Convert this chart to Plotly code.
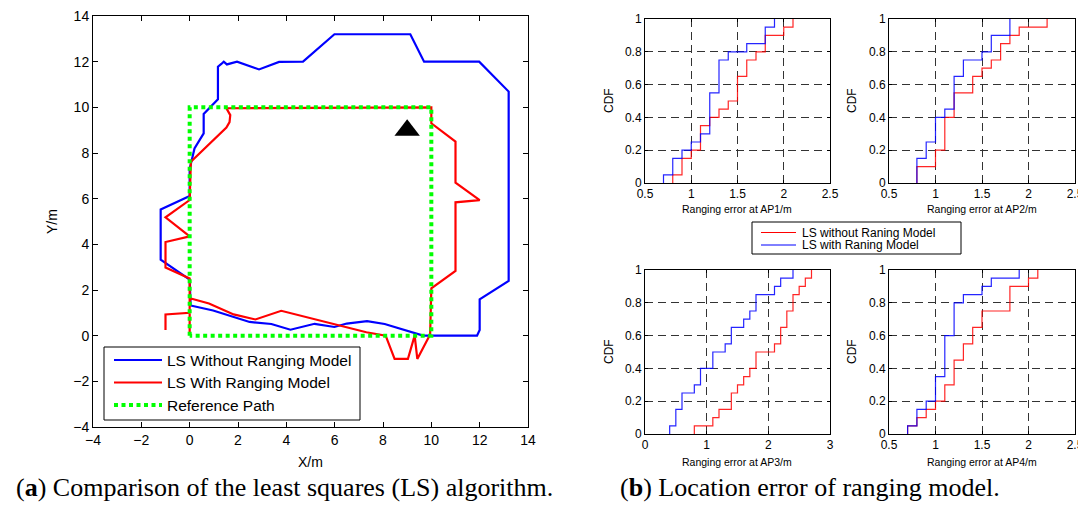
import plotly.graph_objects as go

W, H = 1086, 508
OFF = 8  # default page body margin in the written html

# ---------------- Left panel: trajectories ----------------
blue_x = [0.04, 0.97, 2.48, 3.38, 4.17, 5.17, 5.99, 6.5, 7.34, 8.07, 9.66, 11.89, 12.0, 12.0, 13.2, 13.2,
          11.98, 9.70, 9.13, 5.99, 4.69, 3.70, 2.87, 1.96, 1.54, 1.41, 1.31, 1.17, 1.17, 0.58, 0.58, 0.2,
          0.0, 0.0, -1.2, -1.2, 0.0, 0.04]
blue_y = [1.32, 1.10, 0.60, 0.51, 0.26, 0.52, 0.38, 0.53, 0.64, 0.51, 0.0, 0.0, 0.25, 1.59, 2.40, 10.69,
          12.0, 12.0, 13.2, 13.2, 12.0, 11.99, 11.66, 12.0, 11.88, 12.0, 11.9, 11.78, 10.35, 9.71, 8.86, 8.2,
          7.3, 6.12, 5.53, 3.33, 2.46, 1.32]
red_x = [-1.0, -1.0, 0.0, 0.0, -1.0, -1.0, 0.0, -1.0, 0.0, 0.05, 1.52, 1.65, 1.68, 1.52, 10.0, 10.0, 11.0,
         11.0, 12.0, 11.0, 11.0, 10.0, 9.95, 9.42, 9.31, 9.03, 8.48, 8.11, 7.31, 3.79, 2.72, 1.82, 0.8, 0.05,
         0.0, 0.0]
red_y = [0.25, 0.93, 1.0, 2.5, 2.98, 4.1, 4.35, 5.18, 5.94, 7.62, 9.11, 9.35, 9.66, 9.96, 10.0, 9.3, 8.5,
         6.7, 5.94, 5.84, 2.84, 2.07, 0.05, -1.02, 0.0, -1.02, -1.02, 0.0, 0.15, 1.09, 0.71, 0.93, 1.41, 1.63,
         1.5, 0.1]
ref_x = [0, 0, 10, 10, 0]
ref_y = [0, 10, 10, 0, 0]
ap_x = [9.0]
ap_y = [9.0]
left_ticks = [-4, -2, 0, 2, 4, 6, 8, 10, 12, 14]
left_legend_names = ["LS Without Ranging Model", "LS With Ranging Model", "Reference Path"]

# ---------------- Right panel: CDFs ----------------
ap1_blue_x = [0.7, 0.7, 0.8, 0.9, 1.0, 1.1, 1.2, 1.3, 1.4, 1.6, 1.8, 1.9]
ap1_blue_y = [0, 0.05, 0.15, 0.2, 0.25, 0.3, 0.55, 0.75, 0.8, 0.85, 0.95, 1.0]
ap1_red_x = [0.8, 0.8, 0.9, 1.0, 1.1, 1.2, 1.3, 1.4, 1.5, 1.6, 1.7, 1.8, 2.0, 2.1]
ap1_red_y = [0, 0.05, 0.15, 0.2, 0.35, 0.4, 0.45, 0.5, 0.65, 0.75, 0.8, 0.9, 0.95, 1.0]
ap2_blue_x = [0.8, 0.8, 0.9, 1.0, 1.1, 1.2, 1.3, 1.5, 1.6, 1.8]
ap2_blue_y = [0, 0.15, 0.25, 0.4, 0.45, 0.65, 0.75, 0.8, 0.9, 1.0]
ap2_red_x = [0.8, 0.8, 1.0, 1.1, 1.2, 1.4, 1.5, 1.6, 1.7, 1.8, 1.9, 2.2]
ap2_red_y = [0, 0.1, 0.2, 0.4, 0.55, 0.65, 0.7, 0.75, 0.85, 0.9, 0.95, 1.0]
ap3_blue_x = [0.4, 0.4, 0.5, 0.6, 0.8, 0.9, 1.1, 1.3, 1.4, 1.6, 1.7, 1.8, 2.1, 2.2, 2.4]
ap3_blue_y = [0, 0.05, 0.15, 0.25, 0.3, 0.4, 0.5, 0.55, 0.65, 0.7, 0.75, 0.85, 0.9, 0.95, 1.0]
ap3_red_x = [0.8, 0.8, 1.1, 1.2, 1.4, 1.5, 1.6, 1.7, 1.8, 2.1, 2.2, 2.3, 2.4, 2.5, 2.6, 2.7]
ap3_red_y = [0, 0.05, 0.1, 0.15, 0.25, 0.3, 0.35, 0.4, 0.5, 0.55, 0.65, 0.75, 0.85, 0.9, 0.95, 1.0]
ap4_blue_x = [0.7, 0.7, 0.8, 0.9, 1.0, 1.1, 1.2, 1.3, 1.5, 1.6, 1.9]
ap4_blue_y = [0, 0.05, 0.15, 0.2, 0.35, 0.6, 0.8, 0.85, 0.9, 0.95, 1.0]
ap4_red_x = [0.7, 0.7, 0.8, 0.9, 1.0, 1.1, 1.2, 1.3, 1.4, 1.5, 1.8, 2.0, 2.1]
ap4_red_y = [0, 0.05, 0.1, 0.15, 0.2, 0.3, 0.45, 0.55, 0.65, 0.75, 0.9, 0.95, 1.0]

cdf_ticks_a = [0.5, 1, 1.5, 2, 2.5]
cdf_ticks_a_text = ["0.5", "1", "1.5", "2", "2.5"]
cdf_ticks_b = [0, 1, 2, 3]
cdf_ticks_b_text = ["0", "1", "2", "3"]
cdf_yticks = [0, 0.2, 0.4, 0.6, 0.8, 1.0]
cdf_yticks_text = ["0", "0.2", "0.4", "0.6", "0.8", "1"]
cdf_legend_names = ["LS without Raning Model", "LS with Raning Model"]

SANS = "Liberation Sans, Arial, sans-serif"
SERIF = "Liberation Serif, Times New Roman, serif"
RED, BLUE, GREEN = "#FF0000", "#0000FF", "#00FF00"
GREEN_DASH = "4px,3.5px"


def fx(px):
    return (px - OFF) / W


def fy(py):
    return 1 - (py - OFF) / H


fig = go.Figure()

# left panel traces
fig.add_trace(go.Scatter(x=blue_x, y=blue_y, mode="lines", name=left_legend_names[0], showlegend=False,
                         line=dict(color=BLUE, width=2.2), xaxis="x", yaxis="y"))
fig.add_trace(go.Scatter(x=red_x, y=red_y, mode="lines", name=left_legend_names[1], showlegend=False,
                         line=dict(color=RED, width=2.2), xaxis="x", yaxis="y"))
fig.add_trace(go.Scatter(x=ref_x, y=ref_y, mode="lines", name=left_legend_names[2], showlegend=False,
                         line=dict(color=GREEN, width=4, dash=GREEN_DASH), xaxis="x", yaxis="y"))
fig.add_trace(go.Scatter(x=ap_x, y=ap_y, mode="markers", showlegend=False,
                         marker=dict(symbol="triangle-up", size=22, color="black"), xaxis="x", yaxis="y"))

# CDF traces
cdf_sets = [
    (ap1_red_x, ap1_red_y, ap1_blue_x, ap1_blue_y, "x2", "y2"),
    (ap2_red_x, ap2_red_y, ap2_blue_x, ap2_blue_y, "x3", "y3"),
    (ap3_red_x, ap3_red_y, ap3_blue_x, ap3_blue_y, "x4", "y4"),
    (ap4_red_x, ap4_red_y, ap4_blue_x, ap4_blue_y, "x5", "y5"),
]
for i, (rx, ry, bx, by, xa, ya) in enumerate(cdf_sets):
    fig.add_trace(go.Scatter(x=rx, y=ry, mode="lines", line=dict(color=RED, width=1.2, shape="hv"),
                             name=cdf_legend_names[0], showlegend=False,
                             xaxis=xa, yaxis=ya, opacity=0.85))
    fig.add_trace(go.Scatter(x=bx, y=by, mode="lines", line=dict(color=BLUE, width=1.2, shape="hv"),
                             name=cdf_legend_names[1], showlegend=False,
                             xaxis=xa, yaxis=ya, opacity=0.85))

axis_common = dict(showline=True, linecolor="black", linewidth=1, mirror="ticks", ticks="inside",
                   tickcolor="black", zeroline=False, showgrid=False, automargin=False,
                   ticklabeloverflow="allow")

layout = dict(
    width=W, height=H, autosize=False,
    margin=dict(l=0, r=0, t=0, b=0, autoexpand=False),
    paper_bgcolor="white", plot_bgcolor="white",
    font=dict(family=SANS, color="black"),
    showlegend=False,
    xaxis=dict(domain=[fx(93), fx(528)], range=[-4, 14], tickvals=left_ticks, ticklen=5,
               tickfont=dict(size=14, family=SANS), anchor="y", **axis_common),
    yaxis=dict(domain=[fy(427), fy(16)], range=[-4, 14], tickvals=left_ticks, ticklen=5,
               tickfont=dict(size=14, family=SANS), anchor="x", **axis_common),
)

cdf_domains = {
    2: ([645, 830], [19, 183], [0.5, 2.5], cdf_ticks_a, cdf_ticks_a_text),
    3: ([889, 1075], [19, 183], [0.5, 2.5], cdf_ticks_a, cdf_ticks_a_text),
    4: ([645, 830], [270, 434], [0, 3], cdf_ticks_b, cdf_ticks_b_text),
    5: ([889, 1075], [270, 434], [0.5, 2.5], cdf_ticks_a, cdf_ticks_a_text),
}
grid_common = dict(showline=True, linecolor="black", linewidth=1, mirror="ticks", ticks="inside",
                   tickcolor="black", ticklen=3, zeroline=False, showgrid=True, gridcolor="#333333",
                   gridwidth=1, griddash="8px,5px", tickfont=dict(size=12, family=SANS), automargin=False,
                   ticklabeloverflow="allow")
for k, (xd, yd, xr, tv, tt) in cdf_domains.items():
    layout[f"xaxis{k}"] = dict(domain=[fx(xd[0]), fx(xd[1])], range=xr, tickvals=tv, ticktext=tt,
                               anchor=f"y{k}", **grid_common)
    layout[f"yaxis{k}"] = dict(domain=[fy(yd[1]), fy(yd[0])], range=[0, 1], tickvals=cdf_yticks,
                               ticktext=cdf_yticks_text, anchor=f"x{k}", **grid_common)

fig.update_layout(**layout)


def pline(x0, x1, y, color, width, dash=None):
    ln = dict(color=color, width=width)
    if dash:
        ln["dash"] = dash
    return dict(type="line", xref="paper", yref="paper", x0=fx(x0), x1=fx(x1), y0=fy(y), y1=fy(y), line=ln)


def prect(x0, x1, y0, y1):
    return dict(type="rect", xref="paper", yref="paper", x0=fx(x0), x1=fx(x1), y0=fy(y1), y1=fy(y0),
                line=dict(color="black", width=1), fillcolor="white")


# legend boxes (drawn as in the reference figure)
left_leg_y = [360, 382.5, 405]
cdf_leg_y = [232.5, 245]
shapes = [
    prect(104, 360, 347, 420),
    pline(114, 162, left_leg_y[0], BLUE, 2.2),
    pline(114, 162, left_leg_y[1], RED, 2.2),
    pline(114, 162, left_leg_y[2], GREEN, 4, GREEN_DASH),
    prect(752, 961, 222, 254),
    pline(761, 796, cdf_leg_y[0], RED, 1),
    pline(761, 796, cdf_leg_y[1], BLUE, 1),
]
fig.update_layout(shapes=shapes)

annotations = [
    dict(text="X/m", x=fx(310), y=fy(462), font=dict(size=14, family=SANS)),
    dict(text="Y/m", x=fx(52), y=fy(222), textangle=-90, font=dict(size=14, family=SANS)),
    dict(text="Ranging error at AP1/m", x=fx(737), y=fy(209), font=dict(size=10.5, family=SANS)),
    dict(text="Ranging error at AP2/m", x=fx(982), y=fy(209), font=dict(size=10.5, family=SANS)),
    dict(text="Ranging error at AP3/m", x=fx(737), y=fy(462), font=dict(size=10.5, family=SANS)),
    dict(text="Ranging error at AP4/m", x=fx(982), y=fy(462), font=dict(size=10.5, family=SANS)),
    dict(text="CDF", x=fx(609), y=fy(101), textangle=-90, font=dict(size=12, family=SANS)),
    dict(text="CDF", x=fx(852), y=fy(101), textangle=-90, font=dict(size=12, family=SANS)),
    dict(text="CDF", x=fx(609), y=fy(352), textangle=-90, font=dict(size=12, family=SANS)),
    dict(text="CDF", x=fx(852), y=fy(352), textangle=-90, font=dict(size=12, family=SANS)),
    dict(text=cdf_legend_names[0], x=fx(801), y=fy(cdf_leg_y[0]), xanchor="left",
         font=dict(size=12, family=SANS), borderpad=0),
    dict(text=cdf_legend_names[1], x=fx(801), y=fy(cdf_leg_y[1]), xanchor="left",
         font=dict(size=12, family=SANS), borderpad=0),
    dict(text=left_legend_names[0], x=fx(165), y=fy(left_leg_y[0]), xanchor="left",
         font=dict(size=15.5, family=SANS)),
    dict(text=left_legend_names[1], x=fx(165), y=fy(left_leg_y[1]), xanchor="left",
         font=dict(size=15.5, family=SANS)),
    dict(text=left_legend_names[2], x=fx(165), y=fy(left_leg_y[2]), xanchor="left",
         font=dict(size=15.5, family=SANS)),
    dict(text="(<b>a</b>) Comparison of the least squares (LS) algorithm.", x=fx(14), y=fy(487),
         xanchor="left", font=dict(size=26, family=SERIF)),
    dict(text="(<b>b</b>) Location error of ranging model.", x=fx(618), y=fy(487),
         xanchor="left", font=dict(size=26, family=SERIF)),
]
for a in annotations:
    a.setdefault("xanchor", "center")
    a.update(xref="paper", yref="paper", yanchor="middle", showarrow=False)
fig.update_layout(annotations=annotations)

fig.write_html("out.html")
